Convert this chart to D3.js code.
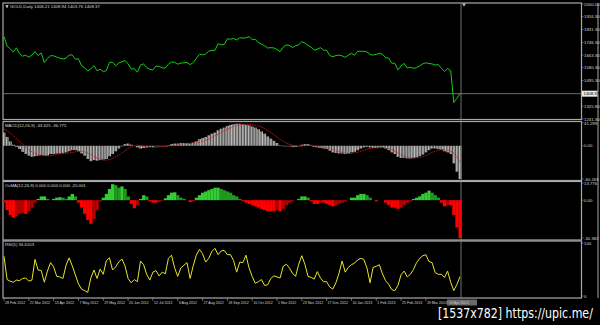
<!DOCTYPE html>
<meta charset="utf-8">
<html>
<body style="margin:0;background:#000">
<div id="chart"></div>
<script src="https://d3js.org/d3.v7.min.js"></script>
<script>
// one sample every 2 daily bars, bar 0 = 28 Feb 2012, last bar = 294
var STEP = 2;
var LAST_BAR = 294;

var priceClose = [1785,1722,1705,1683,1711,1672,1656,1662,1649,1663,
  1686,1660,1677,1614,1640,1659,1658,1650,1642,1637,
  1643,1663,1664,1635,1639,1593,1580,1557,1573,1593,
  1560,1570,1553,1561,1615,1617,1592,1611,1619,1627,
  1605,1570,1574,1550,1597,1605,1580,1569,1565,1591,
  1588,1578,1577,1603,1618,1615,1603,1610,1612,1614,
  1600,1614,1641,1668,1665,1669,1690,1693,1694,1738,
  1731,1733,1770,1768,1772,1763,1778,1775,1777,1785,
  1765,1767,1745,1735,1725,1710,1712,1710,1700,1685,
  1715,1730,1727,1713,1725,1730,1752,1742,1727,1715,
  1695,1702,1712,1695,1695,1660,1652,1660,1663,1658,
  1648,1663,1675,1662,1688,1688,1688,1684,1668,1663,
  1668,1675,1668,1646,1643,1610,1608,1565,1592,1608,
  1578,1583,1576,1580,1592,1605,1612,1607,1605,1597,
  1600,1576,1555,1575,1560,1350,1378,1408.37];

var macdMain = [24,16,8,2,-2,-6,-11,-15,-18,-20,
  -19,-18,-17,-18,-18,-15,-15,-14,-14,-13,
  -12,-10,-8,-8,-10,-14,-18,-24,-28,-26,
  -27,-26,-25,-24,-19,-15,-10,-5,-1,3,
  4,2,0,-3,-5,-4,-3,-2,-2,-1,
  -1,-1,-1,1,3,4,4,5,5,5,
  4,6,8,12,14,16,19,22,24,28,
  31,33,36,38,39,40,40,39,38,37,
  35,33,30,26,22,17,13,9,5,1,
  -1,-1,-1,-2,-2,-1,2,3,3,1,
  -2,-3,-4,-5,-6,-9,-12,-13,-14,-14,
  -15,-14,-12,-11,-8,-5,-3,-2,-3,-4,
  -4,-3,-3,-5,-8,-12,-15,-20,-22,-22,
  -23,-23,-22,-21,-19,-16,-12,-8,-5,-5,
  -6,-7,-10,-12,-15,-32,-47,-60.27];

var macdSignal = [30,27,23,18,13,8,3,-2,-7,-11,
  -14,-16,-17,-18,-18,-18,-17,-16,-15,-14,
  -14,-13,-12,-11,-10,-10,-11,-13,-16,-19,
  -22,-24,-26,-26,-25,-23,-20,-17,-13,-9,
  -5,-2,0,1,0,-1,-2,-3,-3,-3,
  -2,-2,-1,-1,0,1,2,3,4,4,
  5,5,5,6,8,10,12,15,18,21,
  24,27,30,32,35,37,38,39,39,39,
  38,37,36,34,31,28,24,20,16,12,
  8,5,3,1,0,-1,-1,0,1,1,
  0,-1,-2,-3,-4,-5,-7,-9,-11,-12,
  -13,-14,-14,-13,-12,-10,-8,-6,-5,-4,
  -4,-4,-3,-4,-5,-7,-10,-13,-16,-19,
  -21,-22,-22,-22,-21,-20,-18,-15,-12,-10,
  -8,-7,-7,-8,-10,-13,-20,-29.89];

var osma = [-2,-8,-12,-14,-13,-11,-10,-11,-9,-6,
  -2,1,3,3,1,0,1,2,2.4,2,
  1,3,5,3,-2,-6,-11,-16,-19,-15,
  -8,-1,2,5,9,12.8,12,10,11,9,
  3,-3,-6.5,-4,1,4,3,-1,-2,-2,
  -1.5,-0.5,1.5,4,6,6.3,4,2,1,0,
  -1.5,-1,2,4,6,7,8,9,10,10,
  9,8,7,6,4,3,1,-1,-2,-3,
  -4,-5,-6,-7,-8,-9,-9,-9,-8,-9,
  -7,-4,-2,-1,0,1,3,3,2,-1,
  -3,-3,-2,-2,-3,-4,-5,-4,-3,-2,
  -1,0,2,2,4,5,5,4,2,0,
  -1,0,0,-2,-4,-6,-6,-7,-6,-4,
  -2,-1,1,2,3,5,6,7.6,6,4,
  2,-2,-5,-4,-4,-12,-22,-30.38];

var rsi5 = [75,31,28,26,30,29,33,34,28,30,
  69,49,48,26,47,63,55,37,36,33,
  58,72,57,40,23,13,10,7,34,49,
  33,51,41,67,72,49,55,64,70,57,
  33,25,31,27,66,59,41,30,45,48,
  38,45,42,71,77,53,37,53,58,63,
  33,57,77,88,80,64,71,84,90,78,
  85,86,78,78,67,45,64,63,77,53,
  37,24,27,31,20,21,33,38,36,34,
  56,60,53,43,37,60,76,60,37,35,
  32,46,34,27,27,17,13,25,43,66,
  45,54,59,62,68,71,69,53,25,54,
  56,59,42,29,22,12,10,20,40,47,
  36,41,50,63,71,76,78,65,63,44,
  41,41,35,47,26,10,22,36.61];

// a date label every 16 bars
var dateLabels = ["28 Feb 2012","21 Mar 2012","13 Apr 2012","7 May 2012","29 May 2012",
  "20 Jun 2012","12 Jul 2012","3 Aug 2012","27 Aug 2012","18 Sep 2012","10 Oct 2012",
  "1 Nov 2012","23 Nov 2012","17 Dec 2012","10 Jan 2013","1 Feb 2013","25 Feb 2013","19 Mar 2013"];
var priceTicks = [2000.00,1916.30,1831.30,1746.30,1663.30,1580.30,1495.30,1325.80,1241.30];
var bidPrice = 1408.37;
var macdRange = [-60.269, 41.299];
var osmaRange = [-30.382, 13.776];

var W = 600, H = 325;
var left = 3, right = 581.5;
var font = "'Liberation Sans', Arial, sans-serif";

var svg = d3.select("#chart").append("svg")
    .attr("width", W).attr("height", H)
    .style("background", "#000");

var defs = svg.append("defs");

var x = d3.scaleLinear().domain([0, LAST_BAR]).range([4, 460]);
var barW = x(1) - x(0);
var bars = priceClose.map(function (d, i) { return i * STEP; });

var panels = [
  {top: 3, bottom: 119.5},
  {top: 121.5, bottom: 180.5},
  {top: 181.5, bottom: 240},
  {top: 241, bottom: 298}
];

var yPrice = d3.scaleLinear().domain([1241.3, 2000]).range([119, 4]);
var yMacd = d3.scaleLinear().domain(macdRange).range([179, 123]);
var yOsma = d3.scaleLinear().domain(osmaRange).range([238, 183]);
var yRsi = d3.scaleLinear().domain([0, 100]).range([296, 243]);

// stripe pattern for the MACD histogram
var pat = defs.append("pattern").attr("id", "stripes")
    .attr("patternUnits", "userSpaceOnUse")
    .attr("width", barW).attr("height", 4);
pat.append("rect").attr("width", barW).attr("height", 4).attr("fill", "#4a4a4a");
pat.append("rect").attr("width", barW * 0.6).attr("height", 4).attr("fill", "#bcbcbc");

// clip paths per panel
panels.forEach(function (p, i) {
  defs.append("clipPath").attr("id", "clip" + i)
    .append("rect").attr("x", left).attr("y", p.top)
    .attr("width", right - left).attr("height", p.bottom - p.top);
});

// frames
panels.forEach(function (p) {
  svg.append("rect")
    .attr("x", left).attr("y", p.top)
    .attr("width", right - left).attr("height", p.bottom - p.top)
    .attr("fill", "none").attr("stroke", "#a8a8a8").attr("stroke-width", 1.2);
});
svg.append("line").attr("x1", 598).attr("x2", 598).attr("y1", 3).attr("y2", 298)
  .attr("stroke", "#a8a8a8");

// bid line + crosshair
svg.append("line").attr("x1", left).attr("x2", right)
  .attr("y1", yPrice(bidPrice)).attr("y2", yPrice(bidPrice))
  .attr("stroke", "#8a8a8a").attr("stroke-width", 0.8);
svg.append("line").attr("x1", x(LAST_BAR) + 1).attr("x2", x(LAST_BAR) + 1)
  .attr("y1", 3).attr("y2", 298)
  .attr("stroke", "#8a8a8a").attr("stroke-width", 0.8);
svg.append("path")
  .attr("d", d3.symbol().type(d3.symbolTriangle).size(6)())
  .attr("transform", "translate(" + (x(LAST_BAR) + 4) + ",4.5) rotate(180)")
  .attr("fill", "#c0c0c0");

// price line
svg.append("path")
  .datum(priceClose)
  .attr("clip-path", "url(#clip0)")
  .attr("fill", "none")
  .attr("stroke", "#10d010")
  .attr("stroke-width", 1)
  .attr("d", d3.line().x(function (d, i) { return x(bars[i]); }).y(function (d) { return yPrice(d); }));

// MACD histogram
svg.append("g").attr("clip-path", "url(#clip1)")
  .selectAll("rect").data(macdMain).join("rect")
  .attr("x", function (d, i) { return x(bars[i]) - barW; })
  .attr("width", barW * STEP)
  .attr("y", function (d) { return yMacd(Math.max(d, 0)); })
  .attr("height", function (d) { return Math.abs(yMacd(d) - yMacd(0)); })
  .attr("fill", "url(#stripes)");

svg.append("path")
  .datum(macdSignal)
  .attr("clip-path", "url(#clip1)")
  .attr("fill", "none")
  .attr("stroke", "#e01818")
  .attr("stroke-width", 0.9)
  .attr("stroke-dasharray", "1.5,1")
  .attr("d", d3.line().x(function (d, i) { return x(bars[i]); }).y(function (d) { return yMacd(d); }));

// OsMA histogram, brighter when moving away from zero
function osmaColor(d, i) {
  var prev = i > 0 ? osma[i - 1] : d;
  if (d >= 0) return d >= prev ? "#33cc33" : "#1f9a1f";
  return d <= prev ? "#ff0000" : "#b40000";
}
svg.append("g").attr("clip-path", "url(#clip2)")
  .selectAll("rect").data(osma).join("rect")
  .attr("x", function (d, i) { return x(bars[i]) - barW; })
  .attr("width", barW * STEP + 0.2)
  .attr("y", function (d) { return yOsma(Math.max(d, 0)); })
  .attr("height", function (d) { return Math.abs(yOsma(d) - yOsma(0)); })
  .attr("fill", osmaColor);

// RSI
svg.append("path")
  .datum(rsi5)
  .attr("clip-path", "url(#clip3)")
  .attr("fill", "none")
  .attr("stroke", "#e6e628")
  .attr("stroke-width", 1)
  .attr("d", d3.line().x(function (d, i) { return x(bars[i]); }).y(function (d) { return yRsi(d); }));

// right scale labels
function scaleLabel(yv, txt) {
  svg.append("line").attr("x1", right).attr("x2", right + 2).attr("y1", yv).attr("y2", yv)
    .attr("stroke", "#a8a8a8").attr("stroke-width", 0.6);
  svg.append("text").attr("x", 584).attr("y", yv).attr("dy", "0.35em")
    .attr("font-family", font).attr("font-size", 4.3).attr("fill", "#d8d8d8").text(txt);
}
priceTicks.forEach(function (v) { scaleLabel(yPrice(v), d3.format(".2f")(v)); });
scaleLabel(yMacd(macdRange[1]), "41.299");
scaleLabel(yMacd(0), "0.00");
scaleLabel(yMacd(macdRange[0]), "-60.269");
scaleLabel(yOsma(osmaRange[1]), "13.776");
scaleLabel(yOsma(0), "0.00");
scaleLabel(yOsma(osmaRange[0]), "-30.382");
scaleLabel(yRsi(100), "100");
scaleLabel(yRsi(0), "0");

// bid price box
svg.append("rect").attr("x", 582).attr("y", yPrice(bidPrice) - 3).attr("width", 15.5).attr("height", 6)
  .attr("fill", "#e8e8e8");
svg.append("text").attr("x", 583.5).attr("y", yPrice(bidPrice)).attr("dy", "0.35em")
  .attr("font-family", font).attr("font-size", 4.3).attr("fill", "#000").text(d3.format(".2f")(bidPrice));

// date axis
dateLabels.forEach(function (t, i) {
  var xx = x(i * 16);
  svg.append("line").attr("x1", xx).attr("x2", xx).attr("y1", 298).attr("y2", 301)
    .attr("stroke", "#a8a8a8").attr("stroke-width", 0.6);
  svg.append("text").attr("x", xx + 1).attr("y", 302.5).attr("dy", "0.35em")
    .attr("font-family", font).attr("font-size", 3.6).attr("fill", "#d8d8d8").text(t);
});
svg.append("rect").attr("x", 447).attr("y", 299.5).attr("width", 30).attr("height", 6)
  .attr("fill", "#6a6a6a");
svg.append("text").attr("x", 449).attr("y", 302.5).attr("dy", "0.35em")
  .attr("font-family", font).attr("font-size", 3.6).attr("fill", "#c8c8c8").text("19 Apr 2013");

// indicator titles
function title(xv, yv, txt) {
  svg.append("text").attr("x", xv).attr("y", yv).attr("dy", "0.35em")
    .attr("font-family", font).attr("font-size", 4.3).attr("fill", "#d8d8d8").text(txt);
}
svg.append("path")
  .attr("d", d3.symbol().type(d3.symbolTriangle).size(5)())
  .attr("transform", "translate(7,6.3) rotate(180)")
  .attr("fill", "#d8d8d8");
title(10, 6.5, "GOLD,Daily  1406.21 1408.94 1403.76 1408.37");
title(5, 125, "MACD(12,26,9) -33.625 -36.775");
title(5, 185, "OsMA(12,26,9) 0.000 0.000 0.000 -20.001");
title(5, 244.5, "RSI(5) 36.6103");

// watermark, squeezed horizontally to fit the corner
var wm = svg.append("text").attr("x", 0).attr("y", 0)
  .attr("font-family", "'DejaVu Sans Condensed', 'Liberation Sans Narrow', sans-serif")
  .attr("font-size", 13.5).attr("fill", "#ffffff")
  .text("[1537x782] https://upic.me/");
var wmLen = wm.node().getComputedTextLength();
wm.attr("transform", "translate(438,318) scale(" + (155 / wmLen) + ",1)");
</script>
</body>
</html>
